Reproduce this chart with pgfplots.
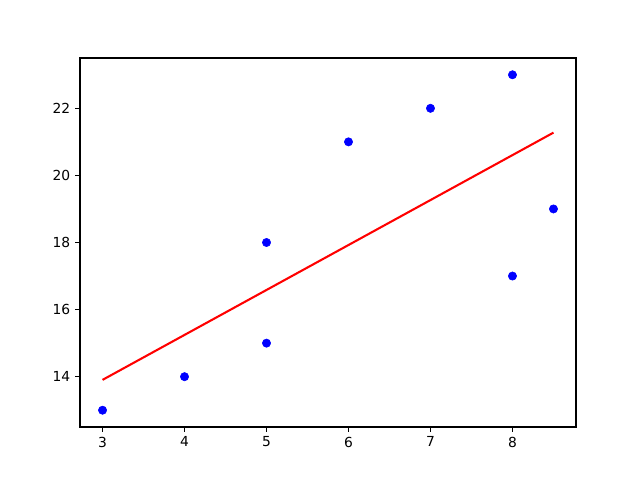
\documentclass[border=0pt]{standalone}
\usepackage{fontspec}
\setmainfont{DejaVu Sans}
\usepackage{pgfplots}
\pgfplotsset{compat=1.18}

\begin{document}
\fontsize{10}{12}\selectfont
\begin{tikzpicture}
\path[use as bounding box] (0,0) rectangle (6.4in,4.8in);
\begin{axis}[at={(0.8in,0.53in)}, anchor=south west,
  scale only axis, width=4.96in, height=3.69in,
  xmin=2.725, xmax=8.775, ymin=12.5, ymax=23.5,
  xtick={3,4,5,6,7,8}, ytick={14,16,18,20,22},
  tick align=outside, major tick length=3.5pt,
  tick style={black, line width=0.8pt},
  axis line style={line width=0.8pt},
  xtick pos=bottom, ytick pos=left,
  tick label style={font=\fontsize{10}{12}\selectfont},
  /pgf/number format/assume math mode=true]
\addplot[only marks, mark=*, mark size=3pt, color=blue] coordinates {
  (3,13) (4,14) (5,15) (5,18) (6,21) (7,22) (8,23) (8,17) (8.5,19)};
\addplot[red, line width=1.5pt] coordinates {(3,13.905) (8.5,21.275)};
\end{axis}
\end{tikzpicture}
\end{document}
